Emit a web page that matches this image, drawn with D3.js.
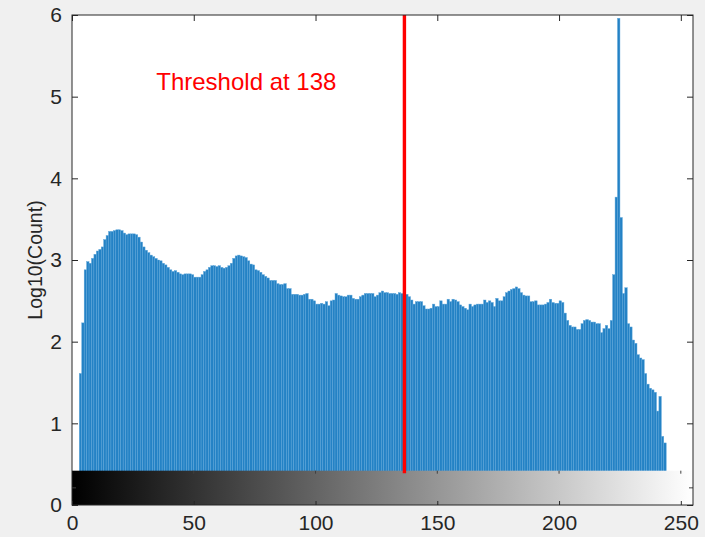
<!DOCTYPE html>
<html>
<head>
<meta charset="utf-8">
<script src="https://cdn.jsdelivr.net/npm/d3@7"></script>
<style>
  html, body { margin: 0; padding: 0; background: #f0f0f0; }
  svg { display: block; font-family: "Liberation Sans", Arial, sans-serif; }
</style>
</head>
<body>
<div id="chart"></div>
<script>
// grey levels that have a bar (first level with counts = 3)
const firstLevel = 3;
// log10(count) per grey level, starting at firstLevel
const logCounts = [
  1.61, 2.23, 2.88, 2.98, 2.96, 3.02, 3.07, 3.11, 3.13, 3.16,
  3.25, 3.30, 3.35, 3.35, 3.36, 3.37, 3.37, 3.36, 3.33, 3.31,
  3.32, 3.32, 3.32, 3.31, 3.28, 3.22, 3.16, 3.12, 3.09, 3.06,
  3.04, 3.02, 3.00, 2.99, 2.96, 2.94, 2.91, 2.88, 2.86, 2.87,
  2.85, 2.83, 2.82, 2.83, 2.83, 2.83, 2.82, 2.79, 2.79, 2.79,
  2.82, 2.86, 2.88, 2.91, 2.93, 2.93, 2.92, 2.93, 2.91, 2.90,
  2.91, 2.93, 2.96, 3.02, 3.05, 3.06, 3.05, 3.04, 3.03, 2.99,
  2.95, 2.94, 2.88, 2.87, 2.85, 2.82, 2.80, 2.78, 2.75, 2.75,
  2.75, 2.71, 2.70, 2.70, 2.71, 2.65, 2.65, 2.58, 2.58, 2.58,
  2.57, 2.57, 2.58, 2.59, 2.52, 2.52, 2.50, 2.46, 2.46, 2.47,
  2.46, 2.49, 2.44, 2.50, 2.51, 2.59, 2.57, 2.56, 2.55, 2.55,
  2.57, 2.57, 2.53, 2.52, 2.52, 2.55, 2.57, 2.59, 2.59, 2.59,
  2.59, 2.55, 2.57, 2.60, 2.62, 2.60, 2.60, 2.59, 2.59, 2.59,
  2.58, 2.60, 2.59, 2.58, 2.58, 2.55, 2.51, 2.46, 2.49, 2.49,
  2.49, 2.44, 2.40, 2.40, 2.41, 2.46, 2.43, 2.43, 2.50, 2.46,
  2.46, 2.52, 2.49, 2.52, 2.51, 2.49, 2.45, 2.43, 2.41, 2.39,
  2.46, 2.43, 2.45, 2.46, 2.46, 2.46, 2.51, 2.48, 2.50, 2.48,
  2.43, 2.53, 2.50, 2.50, 2.55, 2.60, 2.62, 2.64, 2.65, 2.67,
  2.65, 2.60, 2.57, 2.56, 2.56, 2.49, 2.49, 2.50, 2.45, 2.45,
  2.45, 2.46, 2.48, 2.52, 2.48, 2.47, 2.47, 2.50, 2.48, 2.35,
  2.26, 2.20, 2.18, 2.18, 2.15, 2.15, 2.22, 2.26, 2.27, 2.26,
  2.24, 2.24, 2.22, 2.22, 2.11, 2.16, 2.20, 2.16, 2.26, 2.82,
  3.77, 5.96, 3.52, 2.59, 2.66, 2.22, 2.18, 2.02, 1.98, 1.84,
  1.80, 1.78, 1.61, 1.48, 1.43, 1.41, 1.38, 1.15, 1.33, 0.84,
  0.76
];

const xTicks = [0, 50, 100, 150, 200, 250];
const yTicks = [0, 1, 2, 3, 4, 5, 6];
const thresholdLevel = 138;
const thresholdLineAt = 136.5;   // where the red line sits on the grey-level axis
const gradientTop = 0.42;        // height of the grey ramp under the bars
const yLabel = "Log10(Count)";

const bars = logCounts.map((v, i) => ({ level: firstLevel + i, value: v }));

const W = 705, H = 537;
const margin = { top: 15, right: 12, bottom: 32, left: 72 };

const svg = d3.select("#chart").append("svg")
  .attr("width", W)
  .attr("height", H);

svg.append("rect").attr("width", W).attr("height", H).attr("fill", "#f0f0f0");

const x = d3.scaleLinear().domain([0, 255]).range([margin.left, W - margin.right]);
const y = d3.scaleLinear().domain([0, 6]).range([H - margin.bottom, margin.top]);

const axisColor = "#262626";
const tickLen = 6;
const tickFont = 21;

// plot area
svg.append("rect")
  .attr("x", x(0)).attr("y", y(6))
  .attr("width", x(255) - x(0)).attr("height", y(0) - y(6))
  .attr("fill", "#ffffff");

svg.append("clipPath").attr("id", "plotclip")
  .append("rect")
  .attr("x", x(0)).attr("y", y(6))
  .attr("width", x(255) - x(0)).attr("height", y(0) - y(6));

const plot = svg.append("g").attr("clip-path", "url(#plotclip)");

plot.selectAll("rect.bar")
  .data(bars)
  .enter()
  .append("rect")
  .attr("class", "bar")
  .attr("x", d => x(d.level))
  .attr("width", d => x(d.level + 1) - x(d.level))
  .attr("y", d => y(d.value))
  .attr("height", d => y(0) - y(d.value))
  .attr("fill", "#2482c5")
  .attr("stroke", "#5ea6da")
  .attr("stroke-width", 0.45);

// grey ramp
const grad = svg.append("defs").append("linearGradient")
  .attr("id", "ramp")
  .attr("x1", "0%").attr("x2", "100%").attr("y1", "0%").attr("y2", "0%");
grad.append("stop").attr("offset", "0%").attr("stop-color", "#000000");
grad.append("stop").attr("offset", "100%").attr("stop-color", "#ffffff");

plot.append("rect")
  .attr("x", x(0)).attr("y", y(gradientTop))
  .attr("width", x(255) - x(0)).attr("height", y(0) - y(gradientTop))
  .attr("fill", "url(#ramp)");

// ramp ticks (its own little axes)
const rampTicks = svg.append("g").attr("stroke", "#404040").attr("stroke-width", 1);
xTicks.filter(t => t > 0).forEach(t => {
  rampTicks.append("line")
    .attr("x1", x(t)).attr("x2", x(t))
    .attr("y1", y(gradientTop)).attr("y2", y(gradientTop) + 3);
});
rampTicks.append("line")
  .attr("x1", x(0)).attr("x2", x(0) + 4)
  .attr("y1", y(gradientTop / 2)).attr("y2", y(gradientTop / 2));
rampTicks.append("line")
  .attr("x1", x(255)).attr("x2", x(255) - 4)
  .attr("y1", y(gradientTop / 2)).attr("y2", y(gradientTop / 2));

// threshold line
svg.append("line")
  .attr("x1", x(thresholdLineAt)).attr("x2", x(thresholdLineAt))
  .attr("y1", y(6)).attr("y2", y(0.39))
  .attr("stroke", "#ff0000")
  .attr("stroke-width", 3.4);

svg.append("text")
  .attr("x", x(34.6))
  .attr("y", y(5.18))
  .attr("dominant-baseline", "central")
  .attr("fill", "#ff0000")
  .attr("font-size", 24)
  .text("Threshold at " + thresholdLevel);

// axes
function styleAxis(g) {
  g.select(".domain").remove();
  g.selectAll(".tick line").attr("stroke", axisColor);
  g.selectAll(".tick text").attr("fill", axisColor).attr("font-size", tickFont);
}

svg.append("g")
  .attr("transform", "translate(0," + y(0) + ")")
  .call(d3.axisBottom(x).tickValues(xTicks).tickSizeInner(-4).tickSizeOuter(0).tickPadding(10))
  .call(styleAxis);

svg.append("g")
  .attr("transform", "translate(0," + y(6) + ")")
  .call(d3.axisTop(x).tickValues(xTicks).tickSizeInner(-tickLen).tickSizeOuter(0))
  .call(g => { styleAxis(g); g.selectAll(".tick text").remove(); });

svg.append("g")
  .attr("transform", "translate(" + x(0) + ",0)")
  .call(d3.axisLeft(y).tickValues(yTicks).tickFormat(d3.format("d"))
    .tickSizeInner(-tickLen).tickSizeOuter(0).tickPadding(10))
  .call(styleAxis);

svg.append("g")
  .attr("transform", "translate(" + x(255) + ",0)")
  .call(d3.axisRight(y).tickValues(yTicks).tickSizeInner(-tickLen).tickSizeOuter(0))
  .call(g => { styleAxis(g); g.selectAll(".tick text").remove(); });

// box
svg.append("rect")
  .attr("x", x(0)).attr("y", y(6))
  .attr("width", x(255) - x(0)).attr("height", y(0) - y(6))
  .attr("fill", "none")
  .attr("stroke", axisColor)
  .attr("stroke-width", 1);

svg.append("text")
  .attr("transform", "translate(35," + y(3) + ") rotate(-90)")
  .attr("text-anchor", "middle")
  .attr("dominant-baseline", "central")
  .attr("fill", axisColor)
  .attr("font-size", 19.5)
  .text(yLabel);
</script>
</body>
</html>
